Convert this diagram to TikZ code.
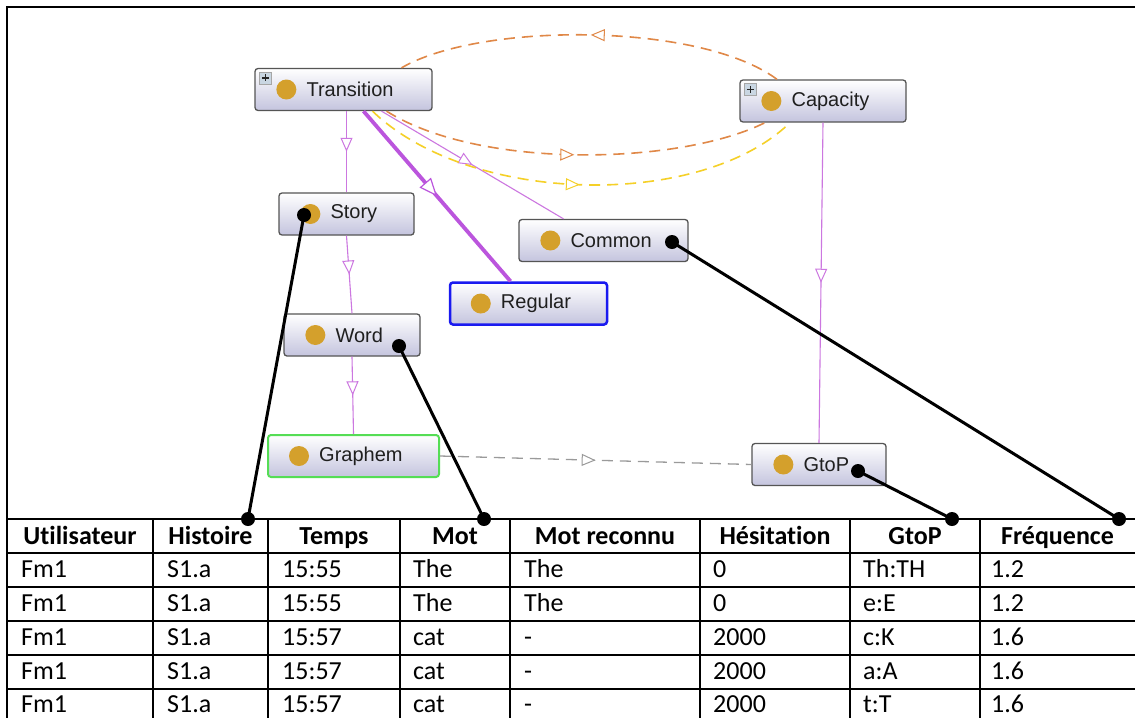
\documentclass[tikz,border=0pt]{standalone}
\usepackage{fontspec}
\setmainfont{Liberation Sans}
\newfontfamily\tabfont[Ligatures=NoCommon]{Carlito}
\usetikzlibrary{arrows.meta,decorations.markings,calc}
\definecolor{gold}{HTML}{D4A02C}
\definecolor{boxgray}{HTML}{555555}
\definecolor{boxbot}{HTML}{C4C4DE}
\definecolor{isapurple}{HTML}{CC77E0}
\definecolor{isathick}{HTML}{BB55DD}
\definecolor{objorange}{HTML}{E08848}
\definecolor{objyellow}{HTML}{F5D028}
\definecolor{objgray}{HTML}{9A9A9A}
\definecolor{regblue}{HTML}{1A1AF0}
\definecolor{graphgreen}{HTML}{55DD55}
\definecolor{plusfill}{HTML}{C9D6E2}
\tikzset{
  cls/.style={draw=boxgray, line width=1.3pt, rounded corners=3pt,
    top color=white, bottom color=boxbot, minimum height=42pt, inner sep=0pt},
  lbl/.style={font=\fontsize{20}{23}\selectfont, text=black!88, inner sep=0pt, anchor=west},
  midtri/.style={postaction={decorate}, decoration={markings,
    mark=at position 0.5 with {\arrow{Triangle[length=14pt,width=12pt,fill=white,line width=1pt]}}}},
  isa/.style={draw=isapurple, line width=1.1pt, midtri},
  isabold/.style={draw=isathick, line width=3.8pt, postaction={decorate}, decoration={markings,
    mark=at position 0.5 with {\arrow{Triangle[length=18pt,width=15pt,fill=white,line width=1.2pt]}}}},
  objdash/.style={line width=1.6pt, dash pattern=on 11pt off 7pt, midtri},
  link/.style={line width=3pt, black},
  dotend/.style={fill=black},
  cell/.style={font=\tabfont\fontsize{26}{30}\selectfont, inner sep=0pt, anchor=base west},
  head/.style={font=\tabfont\bfseries\fontsize{26}{30}\selectfont, inner sep=0pt, anchor=base},
  rule/.style={line width=2pt, black},
  frame/.style={line width=2.5pt, black}
}
\newcommand{\owlcls}[6]{%
  \node[cls,minimum width=#4,#6] (#1) at (#2,#3) {};
  \fill[gold] ([xshift=32pt]#1.west) circle (10pt);
  \node[lbl] (#1-t) at ([xshift=52pt]#1.west) {#5};
}
\newcommand{\plusicon}[1]{%
  \draw[fill=plusfill, draw=gray!70, line width=0.6pt] ([xshift=5pt,yshift=-4pt]#1.north west) rectangle ([xshift=17pt,yshift=-16pt]#1.north west);
  \draw[line width=1.4pt, black!85] ([xshift=7.5pt,yshift=-10pt]#1.north west) -- ([xshift=14.5pt,yshift=-10pt]#1.north west)
    ([xshift=11pt,yshift=-6.5pt]#1.north west) -- ([xshift=11pt,yshift=-13.5pt]#1.north west);
}
\newcommand{\tabrow}[9]{%
  \node[cell] (r#1c1) at (21,#2) {#3};
  \node[cell] (r#1c2) at (167,#2) {#4};
  \node[cell] (r#1c3) at (282,#2) {#5};
  \node[cell] (r#1c4) at (413,#2) {#6};
  \node[cell] (r#1c5) at (524,#2) {#7};
  \node[cell] (r#1c6) at (713,#2) {#8};
  \node[cell] (r#1c7) at (863,#2) {#9};
}
\begin{document}
\begin{tikzpicture}[x=1pt,y=-1pt]
\useasboundingbox (0,0) rectangle (1135,718);
\fill[white] (0,0) rectangle (1135,718);
% frame
\draw[frame] (7,519) -- (7,7) -- (1135,7);

% ontology classes
\owlcls{tr}{343.5}{89.5}{177}{Transition}{}
\owlcls{cap}{823}{101}{166}{Capacity}{}
\owlcls{story}{346.5}{214}{135}{Story}{}
\owlcls{common}{603.5}{240.5}{169}{Common}{}
\owlcls{regular}{528.5}{303.5}{157}{Regular}{draw=regblue, line width=2.5pt}
\owlcls{word}{352}{335}{136}{Word}{}
\owlcls{graphem}{353.5}{456}{171}{Graphem}{draw=graphgreen, line width=2pt}
\owlcls{gtop}{819}{464.5}{134}{GtoP}{}
\plusicon{tr}
\plusicon{cap}

% subclass edges
\draw[isa] (story.north |- tr.south) -- (story.north);
\draw[isa] (story.south) -- (word.north);
\draw[isa] (word.south) -- (graphem.north);
\draw[isa] ([xshift=38pt]tr.south) -- ([xshift=-40pt]common.north);
\draw[isabold] ([xshift=20pt]tr.south) -- ([xshift=-18pt]regular.north);
\draw[isa] (cap.south) -- (gtop.north);

% object property edges
\draw[objdash, draw=objorange] ([xshift=-46pt]cap.north) .. controls (700,22) and (480,22) .. ([xshift=58pt]tr.north);
\draw[objdash, draw=objorange] ([xshift=43pt]tr.south) .. controls (480,170) and (680,165) .. ([xshift=-58pt]cap.south);
\draw[objdash, draw=objyellow] ([xshift=29pt]tr.south) .. controls (470,205) and (700,210) .. ([xshift=-33pt]cap.south);
\draw[objdash, draw=objgray, line width=1.3pt] (graphem.east) -- (gtop.west);

% table grid
\foreach \yy in {519,553,587,621,655,689} { \draw[rule] (7,\yy) -- (1135,\yy); }
\foreach \xx in {7,153,268,400,510,700,850,980} { \draw[rule] (\xx,519) -- (\xx,718); }

% header
\node[head] (h1) at (80,544) {Utilisateur};
\node[head] (h2) at (210.5,544) {Histoire};
\node[head] (h3) at (334,544) {Temps};
\node[head] (h4) at (455,544) {Mot};
\node[head] (h5) at (605,544) {Mot reconnu};
\node[head] (h6) at (775,544) {Hésitation};
\node[head] (h7) at (915,544) {GtoP};
\node[head] (h8) at (1057.5,544) {Fréquence};

% rows
\tabrow{1}{577}{Fm1}{S1.a}{15:55}{The}{The}{0}{Th:TH}
\tabrow{2}{611}{Fm1}{S1.a}{15:55}{The}{The}{0}{e:E}
\tabrow{3}{645}{Fm1}{S1.a}{15:57}{cat}{-}{2000}{c:K}
\tabrow{4}{679}{Fm1}{S1.a}{15:57}{cat}{-}{2000}{a:A}
\tabrow{5}{712}{Fm1}{S1.a}{15:57}{cat}{-}{2000}{t:T}
\node[cell] (r1c8) at (991,577) {1.2};
\node[cell] (r2c8) at (991,611) {1.2};
\node[cell] (r3c8) at (991,645) {1.6};
\node[cell] (r4c8) at (991,679) {1.6};
\node[cell] (r5c8) at (991,712) {1.6};

% mapping connectors
\coordinate (sd) at (304,215);
\coordinate (wd) at (399,346);
\coordinate (cd) at (672,242);
\coordinate (gd) at (858,471);
\coordinate (hd) at (248,519);
\coordinate (md) at (484,519);
\coordinate (pd) at (952,519);
\coordinate (fd) at (1119,519);
\draw[link] (sd) -- (hd);
\draw[link] (wd) -- (md);
\draw[link] (cd) -- (fd);
\draw[link] (gd) -- (pd);
\foreach \p in {sd,wd,cd,gd,hd,md,pd,fd} { \fill[dotend] (\p) circle (7pt); }
\end{tikzpicture}
\end{document}
